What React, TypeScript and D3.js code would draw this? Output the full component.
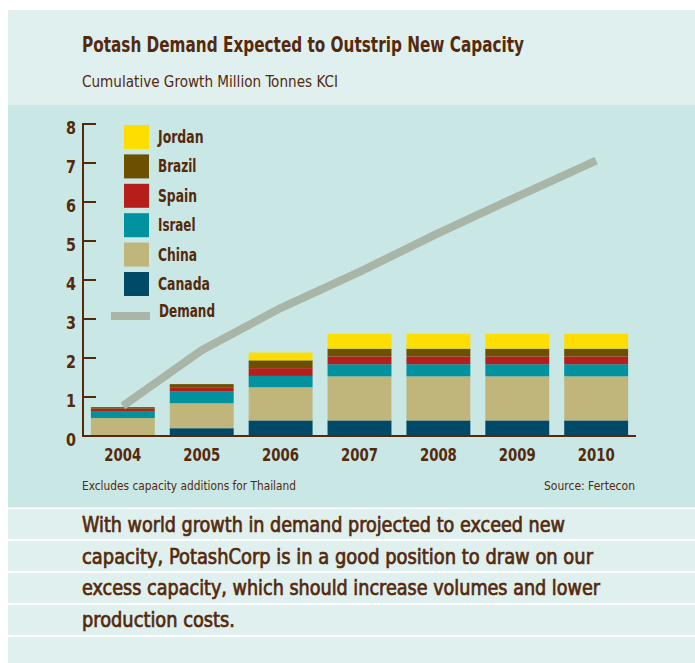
import React from "react";
import * as d3 from "d3";

const years = ["2004", "2005", "2006", "2007", "2008", "2009", "2010"];
const canada = [0, 0.2, 0.4, 0.4, 0.4, 0.4, 0.4];
const china = [0.46, 0.64, 0.85, 1.13, 1.13, 1.13, 1.13];
const israel = [0.18, 0.31, 0.29, 0.31, 0.31, 0.31, 0.31];
const spain = [0.06, 0.1, 0.2, 0.2, 0.2, 0.2, 0.2];
const brazil = [0.04, 0.08, 0.2, 0.2, 0.2, 0.2, 0.2];
const jordan = [0, 0, 0.2, 0.38, 0.38, 0.38, 0.38];
const demand = [0.77, 2.2, 3.28, 4.21, 5.2, 6.14, 7.06];
const yTicks = [0, 1, 2, 3, 4, 5, 6, 7, 8];

const seriesKeys = ["Canada", "China", "Israel", "Spain", "Brazil", "Jordan"];
const seriesValues = [canada, china, israel, spain, brazil, jordan];
const seriesColors = ["#004A67", "#C0B67B", "#00929F", "#B51E1A", "#6C5000", "#FEDD00"];
const legendOrder = ["Jordan", "Brazil", "Spain", "Israel", "China", "Canada"];

const title = "Potash Demand Expected to Outstrip New Capacity";
const subtitle = "Cumulative Growth Million Tonnes KCI";
const footLeft = "Excludes capacity additions for Thailand";
const footRight = "Source: Fertecon";
const bodyLines = [
  "With world growth in demand projected to exceed new",
  "capacity, PotashCorp is in a good position to draw on our",
  "excess capacity, which should increase volumes and lower",
  "production costs.",
];

const FONT = "'Liberation Sans Narrow', 'Arial Narrow', 'DejaVu Sans Condensed', 'Roboto Condensed', sans-serif";
const TXT = "#55290B";
const LIGHT = "#DFF0EF";
const DARK = "#C9E7E5";

export default function App() {
  const table = years.map((y, i) => {
    const row: any = { year: y };
    seriesKeys.forEach((k, j) => (row[k] = seriesValues[j][i]));
    return row;
  });
  const stack = d3.stack<any>().keys(seriesKeys)(table);

  const x = d3.scaleBand<string>().domain(years).range([83, 636]).paddingInner(0.19).paddingOuter(0.1);
  const y = d3.scaleLinear().domain([0, 8]).range([436, 124]);

  const line = d3
    .line<number>()
    .x((_, i) => (x(years[i]) as number) + x.bandwidth() / 2)
    .y((d) => y(d));

  const bodyWidths = [483, 511, 518, 153];
  const bandTops = [509, 541, 573, 605, 637];
  const legendWidths: Record<string, number> = {
    Jordan: 45.5,
    Brazil: 38.5,
    Spain: 39,
    Israel: 37.5,
    China: 39,
    Canada: 52,
  };

  return (
    <div style={{ position: "absolute", left: 0, top: 0 }}>
      <svg width={695} height={663} style={{ display: "block", fontFamily: FONT }}>
        <rect x={0} y={0} width={695} height={663} fill="#ffffff" />
        <rect x={8} y={10} width={687} height={95} fill={LIGHT} />
        <rect x={8} y={105} width={687} height={402.5} fill={DARK} />
        {bandTops.map((t, i) => (
          <rect key={i} x={8} y={t} width={687} height={i === 4 ? 663 - t : 30} fill={LIGHT} />
        ))}

        <text x={82} y={52} fill={TXT} fontSize={20.5} fontWeight="bold" textLength={442} lengthAdjust="spacingAndGlyphs">
          {title}
        </text>
        <text x={82} y={87} fill={TXT} fontSize={15} textLength={256} lengthAdjust="spacingAndGlyphs">
          {subtitle}
        </text>

        {/* bars */}
        {stack.map((s, si) => (
          <g key={s.key} fill={seriesColors[si]}>
            {s.map((d, i) =>
              d[1] - d[0] > 0 ? (
                <rect
                  key={i}
                  x={x(years[i])}
                  y={y(d[1])}
                  width={x.bandwidth()}
                  height={y(d[0]) - y(d[1])}
                />
              ) : null
            )}
          </g>
        ))}

        {/* demand line */}
        <path d={line(demand) || ""} fill="none" stroke="#A8B5A7" strokeWidth={8} strokeLinejoin="miter" />

        {/* axes */}
        <line x1={83} x2={83} y1={y(8) - 1} y2={y(0) + 1} stroke={TXT} strokeWidth={2} />
        <line x1={82} x2={636} y1={y(0)} y2={y(0)} stroke={TXT} strokeWidth={2} />
        {yTicks.map((t) => (
          <g key={t}>
            {t > 0 && <line x1={83} x2={96} y1={y(t)} y2={y(t)} stroke={TXT} strokeWidth={2} />}
            <text x={76} y={y(t) + 10} textAnchor="end" fill={TXT} fontSize={17} fontWeight="bold" textLength={10} lengthAdjust="spacingAndGlyphs">
              {t}
            </text>
          </g>
        ))}
        {years.map((yr) => (
          <text
            key={yr}
            x={(x(yr) as number) + x.bandwidth() / 2 - 18.5}
            y={461}
            fill={TXT}
            fontSize={18.5}
            fontWeight="bold"
            textLength={37}
            lengthAdjust="spacingAndGlyphs"
          >
            {yr}
          </text>
        ))}

        {/* legend */}
        {legendOrder.map((k, i) => {
          const top = 125 + i * 29.4;
          const c = seriesColors[seriesKeys.indexOf(k)];
          return (
            <g key={k}>
              <rect x={124} y={top} width={25} height={24} fill={c} />
              <text
                x={158}
                y={top + 18}
                fill={TXT}
                fontSize={17}
                fontWeight="bold"
                textLength={legendWidths[k]}
                lengthAdjust="spacingAndGlyphs"
              >
                {k}
              </text>
            </g>
          );
        })}
        <line x1={111} x2={150} y1={316} y2={316} stroke="#A8B5A7" strokeWidth={8} />
        <text x={159} y={317} fill={TXT} fontSize={17} fontWeight="bold" textLength={56} lengthAdjust="spacingAndGlyphs">
          Demand
        </text>

        {/* footnotes */}
        <text x={82} y={490} fill={TXT} fontSize={12} textLength={214} lengthAdjust="spacingAndGlyphs">
          {footLeft}
        </text>
        <text x={544} y={490} fill={TXT} fontSize={12} textLength={91} lengthAdjust="spacingAndGlyphs">
          {footRight}
        </text>

        {/* body */}
        {bodyLines.map((l, i) => (
          <text
            key={i}
            x={82}
            y={532 + i * 31.7}
            fill={TXT}
            stroke={TXT}
            strokeWidth={0.7}
            fontSize={21.5}
            textLength={bodyWidths[i]}
            lengthAdjust="spacingAndGlyphs"
          >
            {l}
          </text>
        ))}
      </svg>
    </div>
  );
}
